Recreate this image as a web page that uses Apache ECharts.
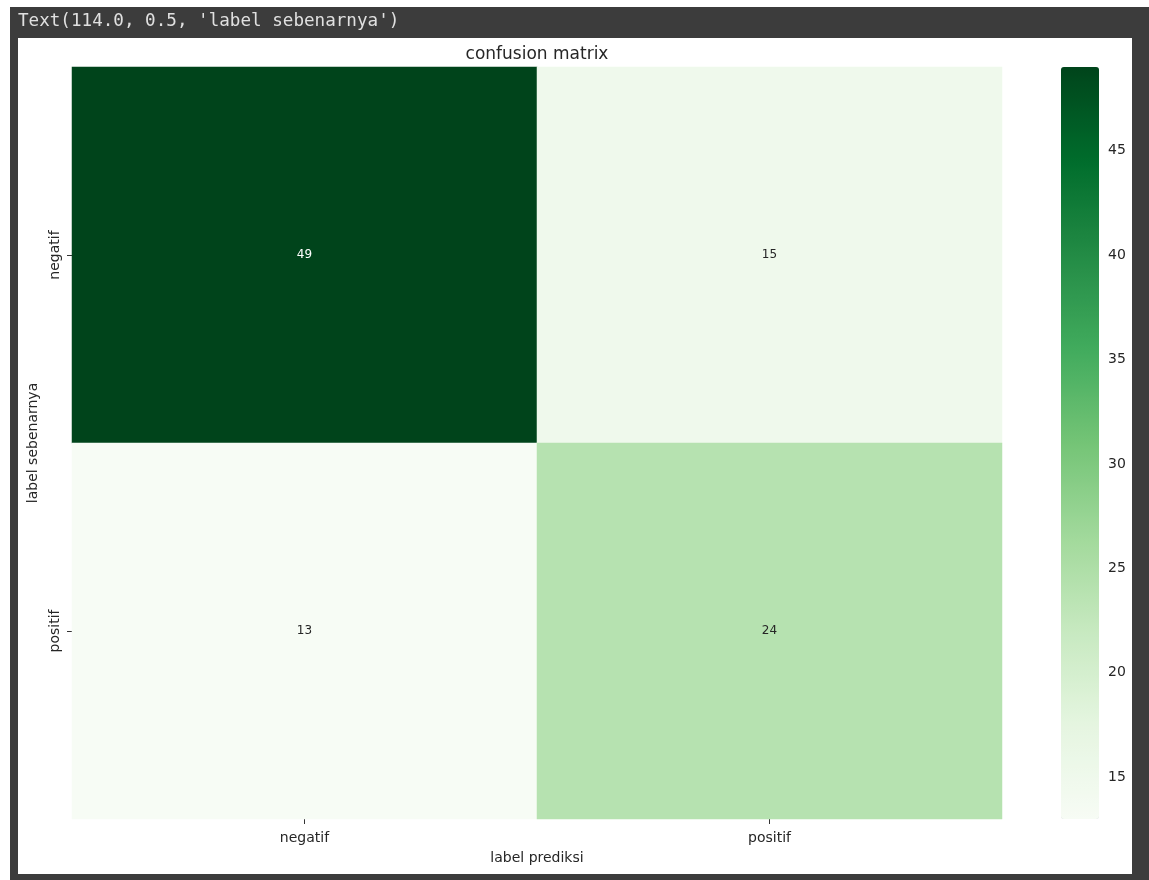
<!DOCTYPE html>
<html><head><meta charset="utf-8">
<script src="https://cdn.jsdelivr.net/npm/echarts@6/dist/echarts.min.js"></script>
<style>html,body{margin:0;padding:0;background:#fff}#c{width:1149px;height:880px}</style>
</head><body><div id="c"></div><script>
const xCategories = ['negatif', 'positif'];
const yCategories = ['negatif', 'positif'];
const rowNegatif = [49, 15];
const rowPositif = [13, 24];
const colorbarTicks = [15, 20, 25, 30, 35, 40, 45];
const vMin = 13, vMax = 49;
const greens = ['#f7fcf5','#e5f5e0','#c7e9c0','#a1d99b','#74c476','#41ab5d','#238b45','#006d2c','#00441b'];

const matrix = [rowNegatif, rowPositif];
const data = [];
matrix.forEach((row, i) => row.forEach((v, j) => {
  data.push({ value: [j, i, v], label: { color: v > (vMin + vMax) / 2 ? '#ffffff' : '#262626' } });
}));

const font = 'DejaVu Sans';
const chart = echarts.init(document.getElementById('c'));
chart.setOption({
  animation: false,
  graphic: [
    { type: 'rect', z: -10, shape: { x: 10, y: 7, width: 1139, height: 873 }, style: { fill: '#3c3c3c' } },
    { type: 'rect', z: -9, shape: { x: 18, y: 38, width: 1114, height: 836 }, style: { fill: '#ffffff' } },
    { type: 'text', z: -8, x: 18, y: 21, style: { text: "Text(114.0, 0.5, 'label sebenarnya')", fill: '#e0e0e0', font: '17.6px "DejaVu Sans Mono"', verticalAlign: 'middle' } }
  ],
  title: {
    text: 'confusion matrix', left: 537, top: 46, textAlign: 'center', padding: 0,
    textStyle: { fontFamily: font, fontSize: 17, fontWeight: 'normal', color: '#262626' }
  },
  grid: [
    { left: 72, top: 67, width: 930, height: 752 },
    { left: 1061, top: 67, width: 38, height: 752 }
  ],
  xAxis: [
    { type: 'category', gridIndex: 0, data: xCategories,
      axisLine: { show: false }, splitLine: { show: false },
      axisTick: { show: true, alignWithLabel: true, length: 5, lineStyle: { color: '#333' } },
      axisLabel: { fontFamily: font, fontSize: 14, color: '#262626', margin: 12 },
      name: 'label prediksi', nameLocation: 'middle', nameGap: 32,
      nameTextStyle: { fontFamily: font, fontSize: 14, color: '#262626' } },
    { type: 'value', gridIndex: 1, show: false, min: 0, max: 1 }
  ],
  yAxis: [
    { type: 'category', gridIndex: 0, data: yCategories, inverse: true,
      axisLine: { show: false }, splitLine: { show: false },
      axisTick: { show: true, alignWithLabel: true, length: 5, lineStyle: { color: '#333' } },
      axisLabel: { fontFamily: font, fontSize: 14, color: '#262626', rotate: 90, margin: 10 },
      name: 'label sebenarnya', nameLocation: 'middle', nameGap: 32,
      nameTextStyle: { fontFamily: font, fontSize: 14, color: '#262626' } },
    { type: 'value', gridIndex: 1, min: vMin, max: vMax, position: 'right',
      axisLine: { show: false }, splitLine: { show: false },
      axisTick: { show: true, customValues: colorbarTicks, length: 5, lineStyle: { color: '#333' } },
      axisLabel: { customValues: colorbarTicks, fontFamily: font, fontSize: 14, color: '#262626', margin: 9 } }
  ],
  visualMap: {
    type: 'continuous', min: vMin, max: vMax, seriesIndex: 0,
    inRange: { color: greens }, left: 1061, top: 67, itemWidth: 38, itemHeight: 752,
    padding: 0, text: ['', ''], calculable: false, hoverLink: false
  },
  series: [
    { type: 'heatmap', xAxisIndex: 0, yAxisIndex: 0, data: data,
      label: { show: true, fontFamily: font, fontSize: 12 },
      itemStyle: { borderWidth: 0 }, emphasis: { disabled: true } },
    { type: 'scatter', xAxisIndex: 1, yAxisIndex: 1, data: [], silent: true }
  ]
});
</script></body></html>
